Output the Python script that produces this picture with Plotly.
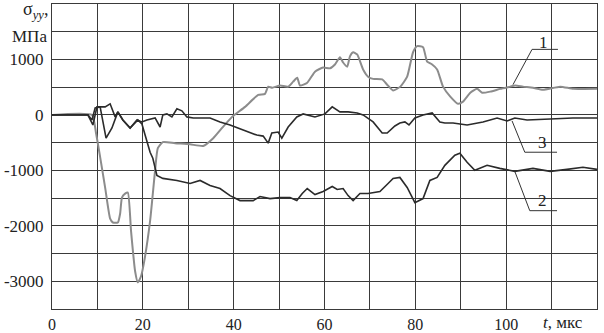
import plotly.graph_objects as go

# Curve 1 (gray)
t1 = [0, 8.8, 9.7, 10.6, 11.7, 12.8, 13.4, 14.5, 15.0, 15.4, 16.1, 16.7, 17.4, 18.3, 18.9, 19.6, 20.3, 21.6,
      22.7, 23.3, 24.4, 27.1, 30.4, 33.3, 35.5, 37.5, 39.6, 42.5, 45.4, 46.9, 47.6, 48.5, 50.2, 52.0, 53.1,
      54.0, 54.6, 56.2, 57.9, 59.7, 61.2, 62.3, 63.4, 64.1, 65.0, 65.6, 66.3, 67.2, 68.5, 69.6, 70.7, 72.7,
      73.8, 75.1, 76.7, 78.2, 79.5, 80.4, 81.7, 82.6, 83.7, 84.8, 86.1, 87.7, 89.4, 90.5, 92.1, 93.6, 94.7,
      96.5, 98.7, 100.9, 102.0, 103.7, 105.9, 108.1, 111.9, 114.8, 120.0]
s1 = [0, 0, -330, -760, -1310, -1870, -1940, -1940, -1780, -1490, -1420, -1400, -2090, -2820, -3020, -2910,
      -2640, -1910, -1000, -600, -490, -510, -530, -560, -420, -230, -40, 145, 360, 380, 510, 490, 530, 510,
      600, 670, 530, 580, 780, 855, 840, 910, 1040, 945, 870, 1055, 1130, 1090, 820, 690, 650, 640, 545, 440,
      510, 690, 1130, 1240, 1220, 960, 910, 820, 510, 330, 200, 240, 400, 470, 400, 420, 470, 510, 530, 510,
      490, 455, 510, 470, 470]

# Curve 2 (dark, lower)
t2 = [0, 7.9, 9.0, 9.9, 11.7, 12.8, 13.9, 14.5, 15.6, 17.2, 18.9, 19.8, 20.5, 21.6, 22.2, 23.1, 24.4, 27.5,
      30.4, 32.6, 34.8, 37.0, 39.2, 41.4, 44.3, 45.8, 48.0, 50.2, 52.4, 53.9, 55.1, 56.2, 57.9, 59.7, 61.7,
      62.8, 64.1, 65.2, 66.3, 67.8, 69.6, 72.2, 74.0, 75.1, 76.6, 78.2, 79.9, 81.7, 83.2, 84.8, 86.5, 88.7,
      89.8, 91.4, 93.1, 95.8, 98.6, 101.9, 105.9, 109.7, 113.4, 116.9, 120.0]
s2 = [0, 0, -182, 145, 145, 200, -36, 55, -91, -236, -91, -164, -364, -673, -782, -1091, -1145, -1182,
      -1236, -1182, -1273, -1327, -1455, -1545, -1545, -1473, -1509, -1491, -1491, -1545, -1418, -1327, -1436,
      -1382, -1291, -1345, -1327, -1455, -1545, -1418, -1418, -1382, -1236, -1145, -1127, -1309, -1582, -1509,
      -1182, -1127, -909, -727, -691, -855, -1000, -909, -964, -1018, -964, -1018, -982, -945, -982]

# Curve 3 (dark, near zero)
t3 = [0, 7.9, 8.8, 9.5, 10.6, 11.9, 13.2, 14.5, 15.6, 17.2, 18.7, 19.8, 20.9, 22.7, 23.8, 24.4, 25.3, 26.4,
      27.5, 28.6, 29.7, 31.1, 33.0, 34.8, 37.0, 39.2, 42.1, 45.1, 46.5, 47.6, 48.4, 49.8, 50.6, 52.0, 53.9,
      55.3, 57.9, 60.1, 61.7, 63.4, 65.2, 67.2, 68.5, 70.0, 70.7, 72.7, 73.8, 75.5, 76.6, 77.7, 78.6, 79.9,
      81.7, 83.7, 85.4, 86.5, 88.3, 91.4, 94.9, 98.0, 100.2, 101.9, 104.6, 109.7, 114.7, 120.0]
s3 = [0, 0, -91, 127, 145, -418, -236, 55, -91, -236, -91, -127, -91, -55, -218, 0, 18, -36, 109, 73, -36,
      -55, -55, -55, -127, -182, -273, -364, -382, -509, -327, -309, -418, -218, -36, 18, -36, 18, 145, 55,
      55, 36, 0, -91, -127, -327, -327, -200, -145, -127, -182, -55, 0, 36, -127, -145, -145, -182, -127, -55,
      -109, -55, -91, -73, -55, -55]

x_tickvals = [0, 20, 40, 60, 80, 100]
x_ticktext = ["0", "20", "40", "60", "80", "100"]
y_tickvals = [-3000, -2000, -1000, 0, 1000]
y_ticktext = ["-3000", "-2000", "-1000", "0", "1000"]

FONT = "Liberation Serif"
GRID = "#3a3a3a"

fig = go.Figure()
fig.add_trace(go.Scatter(x=t1, y=s1, mode="lines",
                         line=dict(color="#8c8c8c", width=2, shape="spline", smoothing=0.5)))
fig.add_trace(go.Scatter(x=t2, y=s2, mode="lines", line=dict(color="#2b2b2b", width=1.6)))
fig.add_trace(go.Scatter(x=t3, y=s3, mode="lines", line=dict(color="#2b2b2b", width=1.6)))

# leader lines for curve labels
leaders = [
    ([101.5, 105.7, 111.4], [545, 1182, 1182], "1", 108.3, 1300),
    ([101.3, 104.1, 111.2], [-109, -673, -673], "3", 107.9, -500),
    ([101.9, 105.2, 111.2], [-1018, -1727, -1727], "2", 108.1, -1545),
]
for lx, ly, txt, ax, ay in leaders:
    fig.add_trace(go.Scatter(x=lx, y=ly, mode="lines", line=dict(color="#333333", width=1)))
    fig.add_annotation(x=ax, y=ay, text=txt, showarrow=False,
                       font=dict(family=FONT, size=17, color="#222"))

fig.update_layout(
    width=604, height=333,
    margin=dict(l=52, r=7, t=4, b=24, autoexpand=False),
    paper_bgcolor="white", plot_bgcolor="white",
    showlegend=False,
    font=dict(family=FONT, size=16, color="#222"),
    xaxis=dict(range=[0, 120], tickvals=x_tickvals, ticktext=x_ticktext, showgrid=True,
               gridcolor=GRID, gridwidth=1, zeroline=False, showline=True, linecolor=GRID,
               linewidth=1, mirror=True, ticks="", ticklabelstandoff=1, automargin=False,
               minor=dict(tick0=0, dtick=10, showgrid=True, gridcolor=GRID, gridwidth=1, ticks=""),
               tickfont=dict(family=FONT, size=16)),
    yaxis=dict(range=[-3500, 2000], tickvals=y_tickvals, ticktext=y_ticktext, showgrid=True,
               gridcolor=GRID, gridwidth=1, zeroline=False, showline=True, linecolor=GRID,
               linewidth=1, mirror=True, ticks="", ticklabelstandoff=4, automargin=False,
               minor=dict(tick0=0, dtick=500, showgrid=True, gridcolor=GRID, gridwidth=1, ticks=""),
               tickfont=dict(family=FONT, size=17)),
)

fig.add_annotation(xref="paper", yref="paper", x=-0.004, y=0.978, xanchor="right", yanchor="middle",
                   text="σ<sub><i>yy</i></sub>,", showarrow=False, font=dict(family=FONT, size=18))
fig.add_annotation(xref="paper", yref="paper", x=-0.006, y=0.895, xanchor="right", yanchor="middle",
                   text="МПа", showarrow=False, font=dict(family=FONT, size=17))
fig.add_annotation(xref="paper", yref="paper", x=0.898, y=-0.045, xanchor="left", yanchor="middle",
                   text="<i>t</i>, мкс", showarrow=False, font=dict(family=FONT, size=17))

fig.write_html("out.html", config={"displayModeBar": False},
               post_script="document.body.style.margin='0';document.body.style.overflow='hidden';")
